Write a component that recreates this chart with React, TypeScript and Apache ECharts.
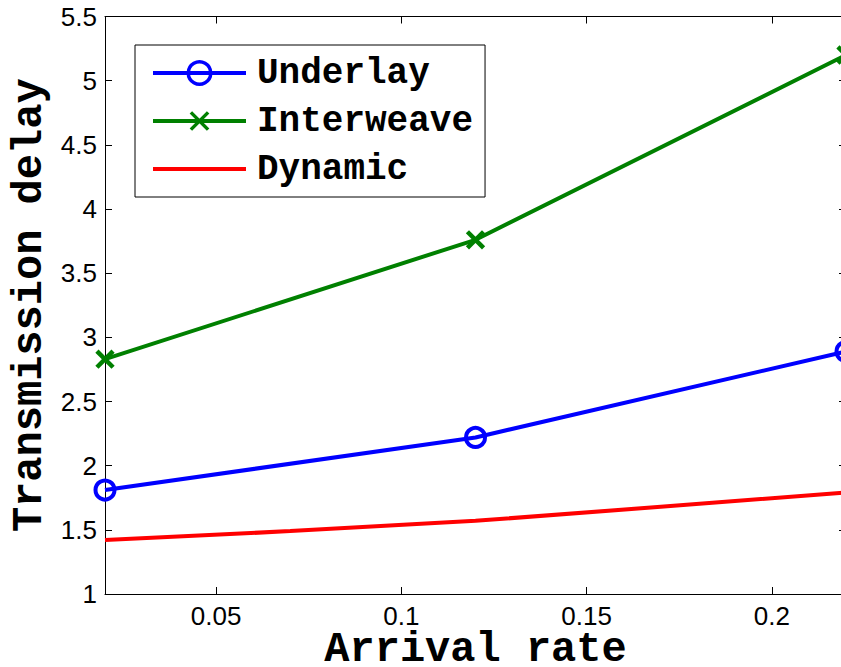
import React, { useEffect, useRef } from "react";
import * as echarts from "echarts";

const xUnderlay = [0.02, 0.12, 0.22];
const yUnderlay = [1.81, 2.22, 2.89];
const xInterweave = [0.02, 0.12, 0.22];
const yInterweave = [2.83, 3.76, 5.2];
const xDynamic = [0.02, 0.07, 0.12, 0.17, 0.22];
const yDynamic = [1.42, 1.49, 1.57, 1.68, 1.79];
const xTicks = [0.05, 0.1, 0.15, 0.2];
const seriesNames = ["Underlay", "Interweave", "Dynamic"];

const MONO = "'Liberation Mono', 'Courier New', monospace";
const SANS = "'Liberation Sans', Arial, sans-serif";

const pairs = (xs: number[], ys: number[]) => xs.map((x, i) => [x, ys[i]]);

const CROSS = "path://M-1.5,-1.5L-1.5,-1.5M0,0L10,10M0,10L10,0M11.5,11.5L11.5,11.5";

export default function App() {
  const ref = useRef<HTMLDivElement>(null);
  useEffect(() => {
    if (!ref.current) return;
    const chart = echarts.init(ref.current, undefined, { renderer: "svg" });
    const xBase = {
      type: "value",
      min: 0.02,
      max: 0.22,
      splitLine: { show: false },
      axisLine: { show: true, onZero: false, lineStyle: { color: "#000", width: 1 } },
    };
    const yBase = {
      type: "value",
      min: 1,
      max: 5.5,
      interval: 0.5,
      splitLine: { show: false },
      axisLine: { show: true, onZero: false, lineStyle: { color: "#000", width: 1 } },
    };
    chart.setOption({
      animation: false,
      backgroundColor: "#fff",
      grid: {
        left: 105,
        top: 16.5,
        width: 741,
        height: 577.5,
        containLabel: false,
        outerBoundsMode: "none",
      },
      xAxis: [
        {
          ...xBase,
          position: "bottom",
          name: "Arrival rate",
          nameLocation: "middle",
          nameGap: 35,
          nameMoveOverlap: false,
          nameTextStyle: { fontFamily: MONO, fontWeight: "bold", fontSize: 42, color: "#000" },
          axisTick: { show: true, inside: true, length: 7, customValues: xTicks, lineStyle: { color: "#000" } },
          axisLabel: {
            customValues: xTicks,
            margin: 9,
            fontFamily: SANS,
            fontSize: 26,
            color: "#000",
          },
        },
        {
          ...xBase,
          position: "top",
          axisTick: { show: true, inside: true, length: 7, customValues: xTicks, lineStyle: { color: "#000" } },
          axisLabel: { show: false, customValues: xTicks },
        },
      ],
      yAxis: [
        {
          ...yBase,
          position: "left",
          name: "Transmission delay",
          nameLocation: "middle",
          nameGap: 54,
          nameMoveOverlap: false,
          nameTextStyle: { fontFamily: MONO, fontWeight: "bold", fontSize: 42, color: "#000" },
          axisTick: { show: true, inside: true, length: 7, lineStyle: { color: "#000" } },
          axisLabel: { margin: 8, fontFamily: SANS, fontSize: 26, color: "#000" },
        },
        {
          ...yBase,
          position: "right",
          axisTick: { show: true, inside: true, length: 7, lineStyle: { color: "#000" } },
          axisLabel: { show: false },
        },
      ],
      legend: {
        data: seriesNames,
        orient: "vertical",
        left: 135,
        top: 45,
        padding: [10, 12, 10, 16],
        itemGap: 12,
        itemWidth: 93,
        itemHeight: 28,
        backgroundColor: "#fff",
        borderColor: "#000",
        borderWidth: 1,
        borderRadius: 0,
        lineStyle: { width: 4 },
        itemStyle: { borderWidth: 3.5 },
        textStyle: {
          fontFamily: MONO,
          fontWeight: "bold",
          fontSize: 36,
          lineHeight: 36,
          color: "#000",
          padding: [0, 0, 0, 6],
        },
      },
      series: [
        {
          name: seriesNames[0],
          type: "line",
          data: pairs(xUnderlay, yUnderlay),
          symbol: "circle",
          symbolSize: 19,
          clip: false,
          lineStyle: { color: "#0000ff", width: 4 },
          itemStyle: { color: "transparent", borderColor: "#0000ff", borderWidth: 4 },
          z: 3,
        },
        {
          name: seriesNames[1],
          type: "line",
          data: pairs(xInterweave, yInterweave),
          symbol: CROSS,
          symbolSize: 21,
          clip: false,
          lineStyle: { color: "#008000", width: 4 },
          itemStyle: { color: "transparent", borderColor: "#008000", borderWidth: 4.5 },
          z: 3,
        },
        {
          name: seriesNames[2],
          type: "line",
          data: pairs(xDynamic, yDynamic),
          symbol: "circle",
          showSymbol: false,
          lineStyle: { color: "#ff0000", width: 4 },
          itemStyle: { color: "transparent", borderColor: "transparent", borderWidth: 0 },
          z: 3,
        },
      ],
    });
    return () => chart.dispose();
  }, []);
  return (
    <div
      ref={ref}
      style={{ position: "fixed", left: 0, top: 0, width: 900, height: 667, background: "#fff" }}
    />
  );
}
